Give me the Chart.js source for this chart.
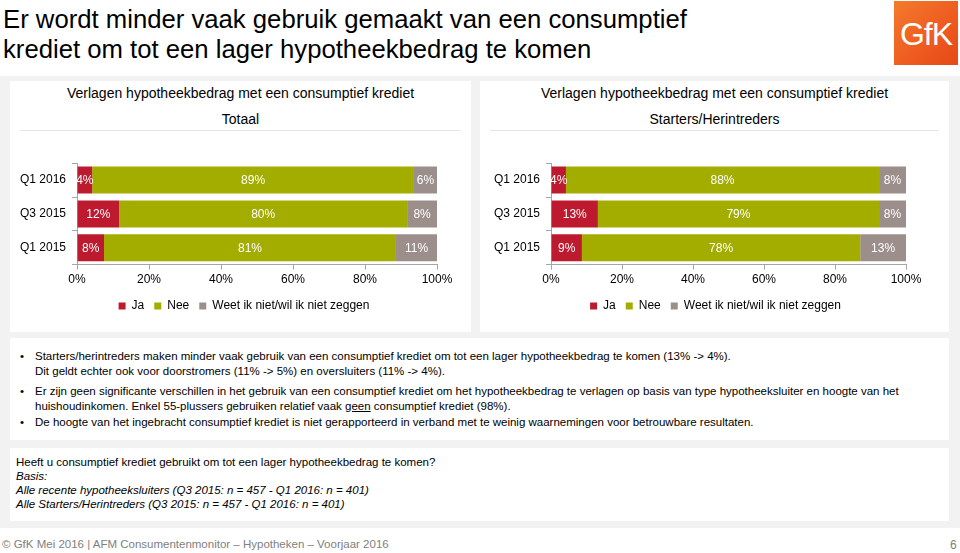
<!DOCTYPE html>
<html>
<head>
<meta charset="utf-8">
<script src="https://cdn.jsdelivr.net/npm/chart.js@4"></script>
<style>
  body { margin: 0; width: 960px; height: 553px; background: #fff; font-family: "Liberation Sans", Arial, sans-serif; position: relative; overflow: hidden; }
  .title { position: absolute; left: 3px; top: 4px; font-size: 25.7px; line-height: 30px; color: #000; }
  .logo { position: absolute; left: 894px; top: 1px; width: 64px; height: 64px; background: linear-gradient(135deg, #f47a2c 0%, #ee5a1f 60%, #e44a17 100%); color: #fff; font-size: 32px; line-height: 66px; text-align: center; letter-spacing: -1px; }
  .band { position: absolute; left: 0; top: 76px; width: 960px; height: 452px; background: #f2f2f2; }
  .box { position: absolute; background: #fff; }
  .head { position: absolute; left: 0; width: 100%; text-align: center; font-size: 14px; color: #000; }
  .sep { position: absolute; left: 10px; right: 10px; top: 49px; height: 1px; background: #e6e6e6; }
  .chart { position: absolute; }
  ul { margin: 0; padding: 0; list-style: none; }
  li { position: absolute; left: 25px; font-size: 11.5px; line-height: 14.5px; color: #000; white-space: nowrap; }
  li::before { content: "•"; position: absolute; left: -15px; }
  .notes { position: absolute; left: 6px; top: 7px; font-size: 11.5px; line-height: 14px; color: #000; }
  .footer { position: absolute; left: 2px; top: 538px; font-size: 11.5px; color: #808080; }
  .page { position: absolute; left: 950px; top: 538px; font-size: 12px; color: #808080; }
</style>
</head>
<body>
<div class="title">Er wordt minder vaak gebruik gemaakt van een consumptief<br>krediet om tot een lager hypotheekbedrag te komen</div>
<div class="logo">GfK</div>
<div class="band"></div>

<div class="box" style="left:10px;top:81px;width:461px;height:251px;">
  <div class="head" style="top:4px;">Verlagen hypotheekbedrag met een consumptief krediet</div>
  <div class="head" style="top:30px;">Totaal</div>
  <div class="sep"></div>
</div>
<div class="box" style="left:480px;top:81px;width:469px;height:251px;">
  <div class="head" style="top:4px;">Verlagen hypotheekbedrag met een consumptief krediet</div>
  <div class="head" style="top:30px;">Starters/Herintreders</div>
  <div class="sep"></div>
</div>
<canvas id="chartTotaal" class="chart" style="left:10px;top:150px;width:461px;height:172px;"></canvas>
<canvas id="chartStarters" class="chart" style="left:480px;top:150px;width:469px;height:172px;"></canvas>

<div class="box" style="left:10px;top:338px;width:939px;height:102px;">
  <ul>
    <li style="top:11px;">Starters/herintreders maken minder vaak gebruik van een consumptief krediet om tot een lager hypotheekbedrag te komen (13% -&gt; 4%).<br>Dit geldt echter ook voor doorstromers (11% -&gt; 5%) en oversluiters (11% -&gt; 4%).</li>
    <li style="top:46px;">Er zijn geen significante verschillen in het gebruik van een consumptief krediet om het hypotheekbedrag te verlagen op basis van type hypotheeksluiter en hoogte van het<br>huishoudinkomen. Enkel 55-plussers gebruiken relatief vaak <u>geen</u> consumptief krediet (98%).</li>
    <li style="top:77px;">De hoogte van het ingebracht consumptief krediet is niet gerapporteerd in verband met te weinig waarnemingen voor betrouwbare resultaten.</li>
  </ul>
</div>
<div class="box" style="left:10px;top:448px;width:939px;height:73px;">
  <div class="notes">Heeft u consumptief krediet gebruikt om tot een lager hypotheekbedrag te komen?<br><i>Basis:</i><br><i>Alle recente hypotheeksluiters (Q3 2015: n = 457 - Q1 2016: n = 401)</i><br><i>Alle Starters/Herintreders (Q3 2015: n = 457 - Q1 2016: n = 401)</i></div>
</div>

<div class="footer">© GfK Mei 2016 | AFM Consumentenmonitor – Hypotheken – Voorjaar 2016</div>
<div class="page">6</div>

<script>
// categories, top to bottom as in the slide
const periods = ['Q1 2016', 'Q3 2015', 'Q1 2015'];
const seriesNames = ['Ja', 'Nee', 'Weet ik niet/wil ik niet zeggen'];
const xTicks = [0, 20, 40, 60, 80, 100];

// Totaal (percentages)
const totaalJa = [4.2, 11.7, 7.5];
const totaalNee = [89.4, 80.0, 81.1];
const totaalWeet = [6.4, 8.3, 11.4];

// Starters/Herintreders (percentages)
const startersJa = [4.2, 13.2, 8.7];
const startersNee = [88.2, 79.2, 78.4];
const startersWeet = [7.6, 7.6, 12.9];

const colors = ['#be1a2f', '#a3ad00', '#9c8f8b'];
const fontFamily = '"Liberation Sans", Arial, sans-serif';

// white value labels in the middle of each segment
const segmentLabels = {
    id: 'segmentLabels',
    afterDatasetsDraw(chart) {
        const ctx = chart.ctx;
        ctx.save();
        ctx.fillStyle = '#fff';
        ctx.font = '12px ' + fontFamily;
        ctx.textAlign = 'center';
        ctx.textBaseline = 'middle';
        chart.data.datasets.forEach((ds, i) => {
            chart.getDatasetMeta(i).data.forEach((bar, j) => {
                const x = (bar.x + bar.base) / 2;
                ctx.fillText(Math.round(ds.data[j]) + '%', x, bar.y + 1);
            });
        });
        ctx.restore();
    }
};

// legend sits a bit left of the plot centre in the slide
const legendShift = {
    id: 'legendShift',
    afterLayout(chart) {
        const lg = chart.legend;
        const ca = chart.chartArea;
        const dx = (ca.left + ca.right) / 2 - 13 - (lg.left + lg.right) / 2;
        lg.left += dx;
        lg.right += dx;
    }
};

function makeChart(id, ja, nee, weet, pad) {
    const values = [ja, nee, weet];
    return new Chart(document.getElementById(id), {
        type: 'bar',
        data: {
            labels: periods,
            datasets: values.map((v, i) => ({
                label: seriesNames[i],
                data: v,
                backgroundColor: colors[i],
                borderWidth: 0,
                barPercentage: 0.8,
                categoryPercentage: 1
            }))
        },
        options: {
            indexAxis: 'y',
            responsive: false,
            animation: false,
            layout: { padding: { left: pad[0], right: pad[1], top: 10, bottom: 0 } },
            scales: {
                x: {
                    stacked: true,
                    min: 0,
                    max: 100,
                    afterBuildTicks: axis => { axis.ticks = xTicks.map(v => ({ value: v })); },
                    grid: { drawOnChartArea: false, tickLength: 5, color: '#a6a6a6' },
                    border: { color: '#a6a6a6' },
                    ticks: { color: '#000', font: { size: 12, family: fontFamily }, padding: 3, callback: v => v + '%' }
                },
                y: {
                    stacked: true,
                    grid: { drawOnChartArea: false, tickLength: 5, color: '#a6a6a6' },
                    border: { color: '#a6a6a6' },
                    ticks: { color: '#000', font: { size: 12, family: fontFamily }, padding: 6 }
                }
            },
            plugins: {
                legend: {
                    position: 'bottom',
                    labels: {
                        boxWidth: 7,
                        boxHeight: 7,
                        padding: 10,
                        color: '#000',
                        font: { size: 12, family: fontFamily }
                    }
                },
                tooltip: { enabled: false }
            }
        },
        plugins: [segmentLabels, legendShift]
    });
}

makeChart('chartTotaal', totaalJa, totaalNee, totaalWeet, [4, 34]);
makeChart('chartStarters', startersJa, startersNee, startersWeet, [8, 43]);
</script>
</body>
</html>
